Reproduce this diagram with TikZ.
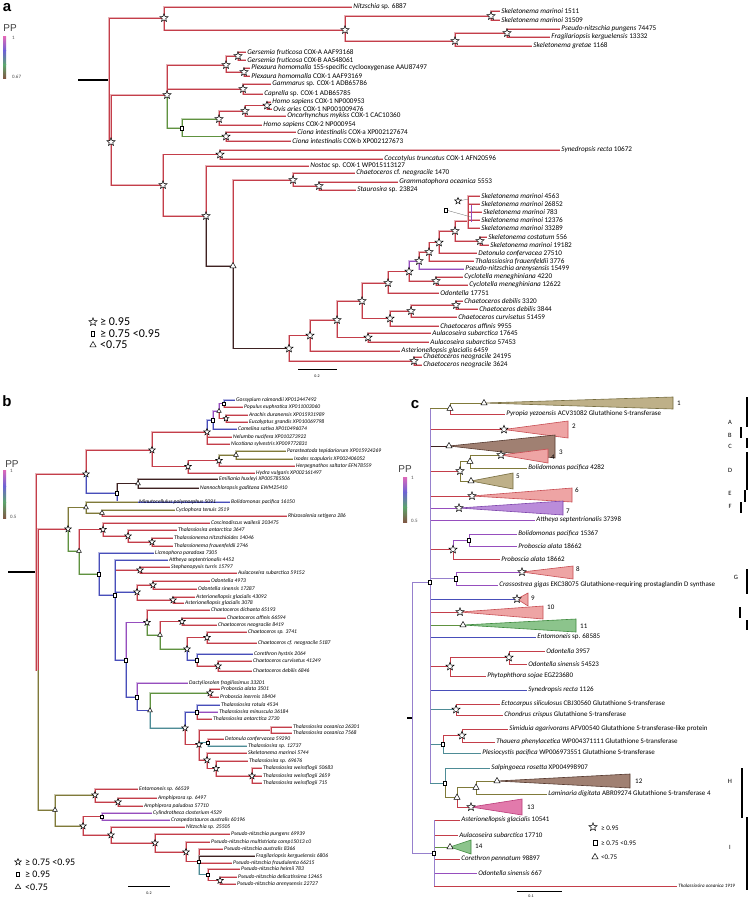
\documentclass[tikz,border=0pt]{standalone}
\usepackage{fontspec}
\setmainfont{Carlito}
\newfontfamily\panelfont{Liberation Sans}
\usetikzlibrary{shapes.geometric, backgrounds}

\definecolor{tred}{RGB}{196,62,74}
\definecolor{tgreen}{RGB}{96,146,64}
\definecolor{tolive}{RGB}{128,122,58}
\definecolor{tblue}{RGB}{72,78,186}
\definecolor{tpurple}{RGB}{150,78,190}
\definecolor{tdark}{RGB}{62,34,34}
\definecolor{tteal}{RGB}{78,140,150}
\definecolor{tlav}{RGB}{150,128,205}
\definecolor{cbtop}{RGB}{222,104,186}
\definecolor{cbmid}{RGB}{108,98,212}
\definecolor{cbgrn}{RGB}{92,164,108}
\definecolor{cbbot}{RGB}{128,88,68}
\definecolor{kolf}{RGB}{190,176,136}
\definecolor{kold}{RGB}{118,108,62}
\definecolor{kpkf}{RGB}{238,164,164}
\definecolor{kpkd}{RGB}{200,78,84}
\definecolor{kbrf}{RGB}{160,128,114}
\definecolor{kbrd}{RGB}{86,58,48}
\definecolor{kpuf}{RGB}{186,140,218}
\definecolor{kpud}{RGB}{126,70,172}
\definecolor{kgrf}{RGB}{140,196,140}
\definecolor{kgrd}{RGB}{62,138,62}
\definecolor{kmgf}{RGB}{226,122,172}
\definecolor{kmgd}{RGB}{186,58,120}

\begin{document}
\begin{tikzpicture}[
  x=1pt, y=-1pt,
  la/.style={anchor=west, inner sep=1.2pt, font=\fontsize{7.2}{8}\selectfont},
  lb/.style={anchor=west, inner sep=1pt, font=\fontsize{5.6}{6}\selectfont\itshape},
  lc/.style={anchor=west, inner sep=1.2pt, font=\fontsize{7}{8}\selectfont},
  pan/.style={font=\panelfont\bfseries\fontsize{15}{15}\selectfont, inner sep=0pt},
  pp/.style={font=\panelfont\fontsize{10}{10}\selectfont, text=black!75, inner sep=0pt},
  ppn/.style={anchor=west, font=\fontsize{5}{5}\selectfont, text=black!70, inner sep=0pt},
  num/.style={anchor=west, font=\fontsize{7}{7}\selectfont, inner sep=0pt},
  grp/.style={font=\fontsize{6.5}{6.5}\selectfont, inner sep=0pt},
  sclab/.style={font=\fontsize{4}{4}\selectfont, inner sep=0pt},
  lga/.style={anchor=west, font=\fontsize{12}{12}\selectfont, inner sep=0pt},
  lgb/.style={anchor=west, font=\fontsize{10}{10}\selectfont, inner sep=0pt},
  lgc/.style={anchor=west, font=\fontsize{7}{7}\selectfont, inner sep=0pt},
  bar/.style={line width=1.6pt},
  ms/.style={star, star points=5, star point ratio=2.3, draw=black, fill=white, line width=0.5pt, inner sep=0pt, minimum size=#1},
  ms/.default=8.5pt,
  mq/.style={rectangle, draw=black, fill=white, line width=0.5pt, inner sep=0pt, minimum width=0.75*#1, minimum height=#1},
  mq/.default=4.5pt,
  mt/.style={regular polygon, regular polygon sides=3, draw=black, fill=white, line width=0.5pt, inner sep=0pt, minimum size=#1},
  mt/.default=7pt,
  ra/.style={draw=#1!40, double=#1, double distance=0.8pt, line width=0.5pt},
  rb/.style={draw=#1!40, double=#1, double distance=0.55pt, line width=0.4pt},
  rc/.style={draw=#1, line width=0.75pt},
  clade/.style 2 args={fill=#1, draw=#2, line width=0.6pt}
]
\useasboundingbox (0,0) rectangle (750,899);

% ---------------- panel a ----------------
\node[pan] (alet) at (7,8) {a};
\node[pp] (appl) at (10,28) {PP};
\node[ppn] (apph) at (12,38) {1};
\node[ppn] (appm) at (12,77) {0.67};

\coordinate (aRs) at (78,80);
\coordinate (aR) at (109,80);
\node[ms] (aN2) at (111,142) {};
\node[ms] (aA1) at (164,18) {};
\node[ms] (aA2) at (345,30) {};
\node[ms] (aA3) at (491,16) {};
\node[ms] (aA4) at (455,41) {};
\node[ms] (aA5) at (507,33) {};
\node[ms] (aC1) at (167,95) {};
\node[ms] (aC2) at (226,65) {};
\node[ms] (aC3) at (238,56) {};
\node[ms] (aC3b) at (244,72) {};
\node[ms] (aC4) at (243,89) {};
\node[mq] (aC5) at (182,128) {};
\node[ms] (aC6) at (219,119) {};
\node[ms] (aC8) at (245,111) {};
\node[ms] (aC9) at (267,105.5) {};
\node[ms] (aC7) at (226,136.5) {};
\node[ms] (aN3) at (163,185) {};
\node[ms] (aS1) at (220,154.5) {};
\node[ms] (aN4) at (206,216) {};
\node[mt] (aN5) at (233,266) {};
\node[ms] (aN6) at (293,180) {};
\node[ms] (aN6b) at (319,186) {};
\node[ms] (aN7) at (289,348.5) {};
\node[ms] (aN8) at (310,335.5) {};
\node[ms] (aN7b) at (414,361) {};
\node[ms] (aN9) at (337,320) {};
\node[ms] (aN11) at (368,337.5) {};
\node[ms] (aN10) at (362,301) {};
\node[ms] (aN13) at (390,318.5) {};
\node[ms] (aN14) at (411,311) {};
\node[ms] (aN15) at (456,305) {};
\node[ms] (aN12) at (388,283) {};
\node[ms] (aN16) at (409,271.5) {};
\node[ms] (aN18) at (436,281) {};
\node[ms] (aN17) at (419,261) {};
\node[ms] (aN19) at (429,252) {};
\node[ms] (aN20) at (439,242.5) {};
\node[ms] (aN21) at (455,231) {};
\node[ms] (aN23) at (480,241) {};
\coordinate (aN22) at (468,221);

\node[la] (aL1) at (352,7) {\textit{Nitzschia} sp. 6887};
\node[la] (aL2) at (500,11) {\textit{Skeletonema marinoi} 1511};
\node[la] (aL3) at (500,20) {\textit{Skeletonema marinoi} 31509};
\node[la] (aL4) at (560,29) {\textit{Pseudo-nitzschia pungens} 74475};
\node[la] (aL5) at (550,37) {\textit{Fragilariopsis kerguelensis} 13332};
\node[la] (aL6) at (532,46) {\textit{Skeletonema gretae} 1168};
\node[la] (aL7) at (246,52) {\textit{Gersemia fruticosa} COX-A AAF93168};
\node[la] (aL8) at (246,60) {\textit{Gersemia fruticosa} COX-B AAS48061};
\node[la] (aL9) at (250,68) {\textit{Plexaura homomalla} 15S-specific cyclooxygenase AAU87497};
\node[la] (aL10) at (250,76) {\textit{Plexaura homomalla} COX-1 AAF93169};
\node[la] (aL11) at (271,84) {\textit{Gammarus} sp. COX-1 ADB65786};
\node[la] (aL12) at (263,94) {\textit{Caprella} sp. COX-1 ADB65785};
\node[la] (aL13) at (271,102) {\textit{Homo sapiens} COX-1 NP000953};
\node[la] (aL14) at (272,109) {\textit{Ovis aries} COX-1 NP001009476};
\node[la] (aL15) at (286,116) {\textit{Oncorhynchus mykiss} COX-1 CAC10360};
\node[la] (aL16) at (262,125) {\textit{Homo sapiens} COX-2 NP000954};
\node[la] (aL17) at (296,132) {\textit{Ciona intestinalis} COX-a XP002127674};
\node[la] (aL18) at (291,141) {\textit{Ciona intestinalis} COX-b XP002127673};
\node[la] (aL19) at (560,150) {\textit{Synedropsis recta} 10672};
\node[la] (aL20) at (383,159) {\textit{Coccotylus truncatus} COX-1 AFN20596};
\node[la] (aL21) at (309,166) {\textit{Nostoc} sp. COX-1 WP015113127};
\node[la] (aL22) at (355,173) {\textit{Chaetoceros} cf. \textit{neogracile} 1470};
\node[la] (aL23) at (398,182) {\textit{Grammatophora oceanica} 5553};
\node[la] (aL24) at (356,190) {\textit{Staurosira} sp. 23824};
\node[la] (aL25) at (480,196) {\textit{Skeletonema marinoi} 4563};
\node[la] (aL26) at (480,204) {\textit{Skeletonema marinoi} 26852};
\node[la] (aL27) at (482,212) {\textit{Skeletonema marinoi} 783};
\node[la] (aL28) at (480,220) {\textit{Skeletonema marinoi} 12376};
\node[la] (aL29) at (480,228) {\textit{Skeletonema marinoi} 33289};
\node[la] (aL30) at (487,237) {\textit{Skeletonema costatum} 556};
\node[la] (aL31) at (489,245) {\textit{Skeletonema marinoi} 19182};
\node[la] (aL32) at (477,253) {\textit{Detonula confervacea} 27510};
\node[la] (aL33) at (474,261) {\textit{Thalassiosira frauenfeldii} 3776};
\node[la] (aL34) at (464,269) {\textit{Pseudo-nitzschia arenysensis} 15499};
\node[la] (aL35) at (463,277) {\textit{Cyclotella meneghiniana} 4220};
\node[la] (aL36) at (468,285) {\textit{Cyclotella meneghiniana} 12622};
\node[la] (aL37) at (439,293) {\textit{Odontella} 17751};
\node[la] (aL38) at (463,301) {\textit{Chaetoceros debilis} 3320};
\node[la] (aL39) at (478,309) {\textit{Chaetoceros debilis} 3844};
\node[la] (aL40) at (457,317) {\textit{Chaetoceros curvisetus} 51459};
\node[la] (aL41) at (439,326) {\textit{Chaetoceros affinis} 9955};
\node[la] (aL42) at (431,333) {\textit{Aulacoseira subarctica} 17645};
\node[la] (aL43) at (429,342) {\textit{Aulacoseira subarctica} 57453};
\node[la] (aL44) at (400,351) {\textit{Asterionellopsis glacialis} 6459};
\node[la] (aL45) at (422,357) {\textit{Chaetoceros neogracile} 24195};
\node[la] (aL46) at (422,365) {\textit{Chaetoceros neogracile} 3624};

% zoomed support marks on the Skeletonema cluster
\node[ms=7pt] (aCs) at (458,201) {};
\node[mq=4pt] (aCq) at (446,210) {};
\coordinate (aCt1) at (469,199);
\coordinate (aCt2) at (471,217);
\coordinate (aCp1) at (471,205);
\coordinate (aCp2) at (471,222);

% scale and legend
\coordinate (asc1) at (298,369);
\coordinate (asc2) at (337,369);
\node[sclab] (asct) at (317,376) {0.2};
\node[ms] (alg1) at (93,322) {};
\node[mq] (alg2) at (93,333.5) {};
\node[mt] (alg3) at (93,345) {};
\node[lga] (alt1) at (100,322) {≥ 0.95};
\node[lga] (alt2) at (100,333.5) {≥ 0.75 <0.95};
\node[lga] (alt3) at (100,345) {<0.75};

% ---------------- panel b ----------------
\node[pan] (blet) at (7,401) {b};
\node[pp] (bppl) at (12,464) {PP};
\node[ppn] (bpph) at (10,471) {1};
\node[ppn] (bppm) at (10,517) {0.5};

\coordinate (bRs) at (8,572);
\coordinate (bR) at (36,572);
\coordinate (bX) at (38,670);
\node[ms=7pt] (bB1) at (86,474) {};
\node[ms=7pt] (bB2) at (152,450) {};
\node[ms=7pt] (bB5) at (207,432) {};
\node[mq=3.5pt] (bB8) at (213,420) {};
\node[mt=5pt] (bB9) at (219,411) {};
\node[mq=3.5pt] (bB10) at (224,403.5) {};
\node[ms=6pt] (bB11) at (226,418.5) {};
\node[ms=7pt] (bB6) at (188,466.5) {};
\node[ms=7pt] (bB12) at (219,460.5) {};
\node[mt=5.5pt] (bB13) at (236,455) {};
\node[mq=3.5pt] (bB3) at (117,493) {};
\node[mt=5.5pt] (bB4) at (138,483.5) {};
\node[ms=7pt] (bB20) at (68,529) {};
\node[mt=5.5pt] (bB21) at (86,507.5) {};
\node[mt=5.5pt] (bB22) at (102,513) {};
\node[mt=5.5pt] (bB23) at (79,551) {};
\node[ms=7pt] (bB24) at (103,529.5) {};
\node[ms=7pt] (bB25) at (128,536) {};
\node[ms=7pt] (bB27) at (152,542) {};
\node[mq=3.5pt] (bB26) at (99,574) {};
\node[mq=3.5pt] (bB28) at (115,595) {};
\node[ms=7pt] (bB29) at (140,570) {};
\node[ms=7pt] (bB30) at (137,592) {};
\node[ms=7pt] (bB51) at (153,585) {};
\node[ms=7pt] (bB52) at (173,600) {};
\node[mq=3.5pt] (bB31) at (126,660) {};
\node[ms=7pt] (bB32) at (147,622.5) {};
\node[mt=5.5pt] (bB34) at (160,635) {};
\node[ms=7pt] (bB35) at (182,621.5) {};
\node[ms=7pt] (bB36) at (187,649) {};
\node[ms=7pt] (bB37) at (207,637.5) {};
\node[mq=3.5pt] (bB38) at (197,660) {};
\node[ms=7pt] (bB39) at (218,666) {};
\node[mq=3.5pt] (bB33) at (137,697) {};
\node[mt=5.5pt] (bB41) at (150,710.5) {};
\node[ms=7pt] (bB42) at (210,693) {};
\node[ms=7pt] (bB43) at (185,728) {};
\node[mq=3.5pt] (bB44) at (197,712) {};
\node[ms=7pt] (bB45) at (199,744.5) {};
\coordinate (bB46) at (271,730);
\node[mq=3.5pt] (bB48) at (208,742.5) {};
\node[ms=7pt] (bB47) at (207,760) {};
\node[ms=7pt] (bB49) at (216,768.5) {};
\node[ms=7pt] (bB50) at (252,776) {};
\node[mt=5.5pt] (bB40) at (55,810) {};
\node[ms=7pt] (bB53) at (95,795) {};
\node[ms=7pt] (bB55) at (118,802) {};
\node[ms=7pt] (bB54) at (83,826) {};
\node[mq=3.5pt] (bB56) at (102,816.5) {};
\node[ms=7pt] (bB57) at (111,835) {};
\node[ms=7pt] (bB58) at (155,843) {};
\node[ms=7pt] (bB59) at (186,852) {};
\node[mq=3.5pt] (bB60) at (199,861.5) {};
\node[mq=3.5pt] (bB61) at (208,874.5) {};
\node[ms=7pt] (bB62) at (220,880.5) {};

\node[lb] (bL1) at (235,400) {Gossypium raimondii XP012447492};
\node[lb] (bL2) at (243,407) {Populus euphratica XP011003060};
\node[lb] (bL3) at (248,415) {Arachis duranensis XP015931989};
\node[lb] (bL4) at (248,422) {Eucalyptus grandis XP010069798};
\node[lb] (bL5) at (237,429) {Camelina sativa XP010496074};
\node[lb] (bL6) at (232,437) {Nelumbo nucifera XP010273922};
\node[lb] (bL7) at (230,444) {Nicotiana sylvestris XP009772831};
\node[lb] (bL8) at (286,451) {Parasteatoda tepidariorum XP015924269};
\node[lb] (bL9) at (293,459) {Ixodes scapularis XP002406052};
\node[lb] (bL10) at (295,466) {Herpegnathos saltator EFN78559};
\node[lb] (bL11) at (255,473) {Hydra vulgaris XP002161497};
\node[lb] (bL12) at (218,479) {Emiliania huxleyi XP005785506};
\node[lb] (bL13) at (199,488) {Nannochloropsis gaditana EWM25410};
\node[lb] (bL14) at (230,502) {Bolidomonas pacifica 16150};
\node[lb] (bL15) at (138,502) {Minutocellulus polymorphus 5091};
\node[lb] (bL16) at (175,510) {Cyclophora tenuis 3519};
\node[lb] (bL17) at (287,516) {Rhizosolenia setigera 286};
\node[lb] (bL18) at (210,523) {Coscinodiscus wailesii 203475};
\node[lb] (bL19) at (177,530) {Thalassiosira antarctica 3647};
\node[lb] (bL20) at (173,538) {Thalassionema nitzschioides 14046};
\node[lb] (bL21) at (173,546) {Thalassionema frauenfeldii 2746};
\node[lb] (bL22) at (154,553) {Licmophora paradoxa 7305};
\node[lb] (bL23) at (168,560) {Attheya septentrionalis 4452};
\node[lb] (bL24) at (170,567) {Stephanopyxis turris 15797};
\node[lb] (bL25) at (237,573) {Aulacoseira subarctica 59152};
\node[lb] (bL26) at (210,581) {Odontella 4973};
\node[lb] (bL27) at (197,589) {Odontella sinensis 17287};
\node[lb] (bL28) at (195,597) {Asterionellopsis glacialis 43092};
\node[lb] (bL29) at (184,603) {Asterionellopsis glacialis 3078};
\node[lb] (bL30) at (210,610) {Chaetoceros dichaeta 65193};
\node[lb] (bL31) at (226,618) {Chaetoceros affinis 66594};
\node[lb] (bL32) at (217,625) {Chaetoceros neogracile 8419};
\node[lb] (bL33) at (247,632) {Chaetoceros sp. 3741};
\node[lb] (bL34) at (257,643) {Chaetoceros cf. neogracile 5187};
\node[lb] (bL35) at (253,654) {Corethron hystrix 2064};
\node[lb] (bL36) at (252,661) {Chaetoceros curvisetus 41249};
\node[lb] (bL37) at (252,671) {Chaetoceros debilis 6846};
\node[lb] (bL38) at (188,683) {Dactyliosolen fragilissimus 33201};
\node[lb] (bL39) at (220,689) {Proboscia alata 3501};
\node[lb] (bL40) at (219,697) {Proboscia inermis 18404};
\node[lb] (bL41) at (220,705) {Thalassiosira rotula 4534};
\node[lb] (bL42) at (218,712) {Thalassiosira minuscula 36184};
\node[lb] (bL43) at (212,719) {Thalassiosira antarctica 2730};
\node[lb] (bL44) at (292,727) {Thalassiosira oceanica 26301};
\node[lb] (bL45) at (292,733) {Thalassiosira oceanica 7568};
\node[lb] (bL46) at (224,739) {Detonula confervacea 59290};
\node[lb] (bL47) at (247,746) {Thalassiosira sp. 12737};
\node[lb] (bL48) at (247,753) {Skeletonema marinoi 5744};
\node[lb] (bL49) at (248,761) {Thalassiosira sp. 69676};
\node[lb] (bL50) at (262,768) {Thalassiosira weissflogii 50683};
\node[lb] (bL51) at (262,776) {Thalassiosira weissflogii 2659};
\node[lb] (bL52) at (262,783) {Thalassiosira weissflogii 715};
\node[lb] (bL53) at (138,789) {Entomoneis sp. 66539};
\node[lb] (bL54) at (157,798) {Amphiprora sp. 6497};
\node[lb] (bL55) at (143,806) {Amphiprora paludosa 57710};
\node[lb] (bL56) at (152,813) {Cylindrotheca closterium 4529};
\node[lb] (bL57) at (170,820) {Craspedostauros australis 60196};
\node[lb] (bL58) at (185,827) {Nitzschia sp. 25505};
\node[lb] (bL59) at (230,834) {Pseudo-nitzschia pungens 69939};
\node[lb] (bL60) at (210,842) {Pseudo-nitzschia multistriata comp15013 c0};
\node[lb] (bL61) at (223,849) {Pseudo-nitzschia australis 8366};
\node[lb] (bL62) at (255,856) {Fragilariopsis kerguelensis 6806};
\node[lb] (bL63) at (232,863) {Pseudo-nitzschia fraudulenta 66215};
\node[lb] (bL64) at (240,869) {Pseudo-nitzschia heimii 783};
\node[lb] (bL65) at (237,877) {Pseudo-nitzschia delicatissima 12465};
\node[lb] (bL66) at (236,884) {Pseudo-nitzschia arenysensis 22727};

\coordinate (bsc1) at (128,886);
\coordinate (bsc2) at (170,886);
\node[sclab] (bsct) at (149,893) {0.2};
\node[ms=7pt] (blg1) at (18,862) {};
\node[mq] (blg2) at (18,874) {};
\node[mt=6pt] (blg3) at (18,887) {};
\node[lgb] (blt1) at (25,862) {≥ 0.75 <0.95};
\node[lgb] (blt2) at (25,874) {≥ 0.95};
\node[lgb] (blt3) at (25,887) {<0.75};

% ---------------- panel c ----------------
\node[pan] (clet) at (415,405) {c};
\node[pp] (cppl) at (405,469) {PP};
\node[ppn] (cpph) at (411,478) {1};
\node[ppn] (cppm) at (411,521) {0.5};

\coordinate (cRs) at (407,718);
\coordinate (cR) at (412,718);
\node[mq] (cRc1) at (430,582) {};
\node[mq] (cRc2) at (434,853) {};
\node[mt] (cA1) at (450,408.5) {};
\node[mt] (cA2) at (484,403) {};
\node[ms] (cS2) at (504,429.5) {};
\node[mt] (cS3) at (449,446) {};
\node[ms] (cD) at (460,471) {};
\node[mt] (cD1) at (470,461.5) {};
\node[ms] (cS4) at (501,455) {};
\node[mt] (cD2) at (471,481) {};
\node[ms] (cS6) at (472,496) {};
\node[ms] (cS7) at (459,508) {};
\node[ms] (cE1) at (453,549.5) {};
\node[mq] (cE2) at (469,540) {};
\node[mq] (cG1) at (456,578.5) {};
\node[ms] (cS8) at (522,572) {};
\node[ms] (cS9) at (517,599) {};
\node[ms] (cS10) at (460,612) {};
\node[mt] (cS11) at (463,625) {};
\node[ms] (cK) at (450,666.5) {};
\node[ms] (cK2) at (509,657.5) {};
\node[ms] (cJ) at (456,709.5) {};
\node[mq] (cM1) at (443,744) {};
\node[ms] (cM2) at (462,735.5) {};
\node[mq] (cH1) at (445,783) {};
\node[mt] (cH2) at (457,797.5) {};
\node[mt] (cH3) at (476,787.5) {};
\node[mt] (cS12) at (497,781) {};
\node[ms] (cH4) at (471,807) {};
\node[mt] (cS14) at (450,847) {};

\node[lc] (cL1) at (505,414) {\textit{Pyropia yezoensis} ACV31082 Glutathione S-transferase};
\node[lc] (cL2) at (527,468) {\textit{Bolidomonas pacifica} 4282};
\node[lc] (cL3) at (535,520) {\textit{Attheya septentrionalis} 37398};
\node[lc] (cL4) at (517,534) {\textit{Bolidomonas pacifica} 15367};
\node[lc] (cL5) at (517,546) {\textit{Proboscia alata} 18662};
\node[lc] (cL6) at (500,559) {\textit{Proboscia alata} 18662};
\node[lc] (cL7) at (498,585) {\textit{Crassostrea gigas} EKC38075 Glutathione-requiring prostaglandin D synthase};
\node[lc] (cL8) at (536,637) {\textit{Entomoneis} sp. 68585};
\node[lc] (cL9) at (545,651) {\textit{Odontella} 3957};
\node[lc] (cL10) at (527,664) {\textit{Odontella sinensis} 54523};
\node[lc] (cL11) at (486,676) {\textit{Phytophthora sojae} EGZ23680};
\node[lc] (cL12) at (527,690) {\textit{Synedropsis recta} 1126};
\node[lc] (cL13) at (500,704) {\textit{Ectocarpus siliculosus} CBJ30560 Glutathione S-transferase};
\node[lc] (cL14) at (503,715) {\textit{Chondrus crispus} Glutathione S-transferase};
\node[lc] (cL15) at (508,729) {\textit{Simiduia agarivorans} AFV00540 Glutathione S-transferase-like protein};
\node[lc] (cL16) at (495,742) {\textit{Thauera phenylacetica} WP004371111 Glutathione S-transferase};
\node[lc] (cL17) at (481,753) {\textit{Plesiocystis pacifica} WP006973551 Glutathione S-transferase};
\node[lc] (cL18) at (490,768) {\textit{Salpingoeca rosetta} XP004998907};
\node[lc] (cL19) at (547,794) {\textit{Laminaria digitata} ABR09274 Glutathione S-transferase 4};
\node[lc] (cL20) at (460,820) {\textit{Asterionellopsis glacialis} 10541};
\node[lc] (cL21) at (458,835) {\textit{Aulacoseira subarctica} 17710};
\node[lc] (cL22) at (460,859) {\textit{Corethron pennatum} 98897};
\node[lc] (cL23) at (477,873) {\textit{Odontella sinensis} 667};
\node[lc, font=\fontsize{5}{5}\selectfont\itshape] (cL24) at (677,886) {Thalassiosira oceanica 1919};

\node[num] (cn1) at (677,403) {1};
\node[num] (cn2) at (572,426) {2};
\node[num] (cn3) at (559,452) {3};
\node[num] (cn4) at (551,457) {4};
\node[num] (cn5) at (516,476) {5};
\node[num] (cn6) at (575,490) {6};
\node[num] (cn7) at (566,511) {7};
\node[num] (cn8) at (576,569) {8};
\node[num] (cn9) at (531,598) {9};
\node[num] (cn10) at (547,607) {10};
\node[num] (cn11) at (580,626) {11};
\node[num] (cn12) at (635,781) {12};
\node[num] (cn13) at (527,807) {13};
\node[num] (cn14) at (475,846) {14};

\node[grp] (cgA) at (730,422) {A};
\node[grp] (cgB) at (730,435) {B};
\node[grp] (cgC) at (730,446) {C};
\node[grp] (cgD) at (730,470) {D};
\node[grp] (cgE) at (730,493) {E};
\node[grp] (cgF) at (730,506) {F};
\node[grp] (cgG) at (736,577) {G};
\node[grp] (cgH) at (730,781) {H};
\node[grp] (cgI) at (730,847) {I};

\coordinate (csc1) at (517,891);
\coordinate (csc2) at (562,891);
\node[sclab] (csct) at (531,896.5) {0.1};
\node[ms] (clg1) at (593,827) {};
\node[mq=5pt] (clg2) at (595,843) {};
\node[mt] (clg3) at (595,857) {};
\node[lgc] (clt1) at (601,828) {≥ 0.95};
\node[lgc] (clt2) at (601,843) {≥ 0.75 <0.95};
\node[lgc] (clt3) at (601,857) {<0.75};

% ---------------- branches (behind the marks) ----------------
\begin{scope}[on background layer]
\fill[white] (0,0) rectangle (750,899);

% colour bars
\shade[top color=cbtop, bottom color=cbmid] (3,37) rectangle (6,51);
\shade[top color=cbmid, bottom color=cbgrn] (3,51) rectangle (6,65);
\shade[top color=cbgrn, bottom color=cbbot] (3,65) rectangle (6,78);
\shade[top color=cbtop, bottom color=cbmid] (3,470) rectangle (6,486);
\shade[top color=cbmid, bottom color=cbgrn] (3,486) rectangle (6,502);
\shade[top color=cbgrn, bottom color=cbbot] (3,502) rectangle (6,518);
\shade[top color=cbtop, bottom color=cbmid] (403,477) rectangle (407,492);
\shade[top color=cbmid, bottom color=cbgrn] (403,492) rectangle (407,507);
\shade[top color=cbgrn, bottom color=cbbot] (403,507) rectangle (407,522);

% panel a
\draw[line width=1.4pt] (aRs) -- (aR);
\draw[ra=tred] (aR) |- (aA1.center) (aR) |- (aN2.center);
\draw[ra=tred] (aA1.center) |- (aL1.west) (aA1.center) |- (aA2.center);
\draw[ra=tred] (aA2.center) |- (aA3.center) (aA2.center) |- (aA4.center);
\draw[ra=tred] (aA3.center) |- (aL2.west) (aA3.center) |- (aL3.west);
\draw[ra=tred] (aA4.center) |- (aA5.center) (aA4.center) |- (aL6.west);
\draw[ra=tred] (aA5.center) |- (aL4.west) (aA5.center) |- (aL5.west);
\draw[ra=tred] (aN2.center) |- (aC1.center) (aN2.center) |- (aN3.center);
\draw[ra=tred] (aC1.center) |- (aC2.center) (aC1.center) |- (aC4.center);
\draw[ra=tgreen] (aC1.center) |- (aC5.center);
\draw[ra=tred] (aC2.center) |- (aC3.center) (aC2.center) |- (aC3b.center);
\draw[ra=tred] (aC3.center) |- (aL7.west) (aC3.center) |- (aL8.west);
\draw[ra=tred] (aC3b.center) |- (aL9.west) (aC3b.center) |- (aL10.west);
\draw[ra=tred] (aC4.center) |- (aL11.west) (aC4.center) |- (aL12.west);
\draw[ra=tgreen] (aC5.center) |- (aC6.center) (aC5.center) |- (aC7.center);
\draw[ra=tred] (aC6.center) |- (aC8.center) (aC6.center) |- (aL16.west);
\draw[ra=tred] (aC8.center) |- (aC9.center) (aC8.center) |- (aL15.west);
\draw[ra=tred] (aC9.center) |- (aL13.west) (aC9.center) |- (aL14.west);
\draw[ra=tred] (aC7.center) |- (aL17.west) (aC7.center) |- (aL18.west);
\draw[ra=tred] (aN3.center) |- (aS1.center) (aN3.center) |- (aN4.center);
\draw[ra=tred] (aS1.center) |- (aL19.west) (aS1.center) |- (aL20.west);
\draw[ra=tred] (aN4.center) |- (aL21.west);
\draw[ra=tdark] (aN4.center) |- (aN5.center);
\draw[ra=tred] (aN5.center) |- (aN6.center);
\draw[ra=tdark] (aN5.center) |- (aN7.center);
\draw[ra=tred] (aN6.center) |- (aL22.west) (aN6.center) |- (aN6b.center);
\draw[ra=tred] (aN6b.center) |- (aL23.west) (aN6b.center) |- (aL24.west);
\draw[ra=tred] (aN7.center) |- (aN8.center) (aN7.center) |- (aN7b.center);
\draw[ra=tred] (aN7b.center) |- (aL45.west) (aN7b.center) |- (aL46.west);
\draw[ra=tred] (aN8.center) |- (aN9.center) (aN8.center) |- (aL44.west);
\draw[ra=tred] (aN9.center) |- (aN10.center) (aN9.center) |- (aN11.center);
\draw[ra=tred] (aN11.center) |- (aL42.west) (aN11.center) |- (aL43.west);
\draw[ra=tred] (aN10.center) |- (aN12.center) (aN10.center) |- (aN13.center);
\draw[ra=tred] (aN13.center) |- (aN14.center) (aN13.center) |- (aL41.west);
\draw[ra=tred] (aN14.center) |- (aN15.center) (aN14.center) |- (aL40.west);
\draw[ra=tred] (aN15.center) |- (aL38.west) (aN15.center) |- (aL39.west);
\draw[ra=tred] (aN12.center) |- (aN16.center) (aN12.center) |- (aL37.west);
\draw[ra=tred] (aN16.center) |- (aN18.center);
\draw[ra=tpurple] (aN16.center) |- (aN17.center);
\draw[ra=tred] (aN18.center) |- (aL35.west) (aN18.center) |- (aL36.west);
\draw[ra=tred] (aN17.center) |- (aN19.center);
\draw[ra=tpurple] (aN17.center) |- (aL34.west);
\draw[ra=tred] (aN19.center) |- (aN20.center) (aN19.center) |- (aL33.west);
\draw[ra=tred] (aN20.center) |- (aN21.center) (aN20.center) |- (aL32.west);
\draw[ra=tred] (aN21.center) |- (aN22) (aN21.center) |- (aN23.center);
\draw[ra=tred] (aN23.center) |- (aL30.west) (aN23.center) |- (aL31.west);
\draw[ra=tred] (aN22) |- (aL25.west) (aN22) |- (aL26.west) (aN22) |- (aL27.west)
  (aN22) |- (aL28.west) (aN22) |- (aL29.west);
\draw[tpurple, line width=0.9pt] (aCp1) -- (aCp2);
\draw[black!60, line width=0.3pt] (aCs) -- (aCt1) (aCq) -- (aCt2);
\draw[line width=1pt] (asc1) -- (asc2);

% panel b
\draw[line width=1.4pt] (bRs) -- (bR);
\draw[rb=tred] (bR) |- (bB1.center) (bR) |- (bX);
\draw[rb=tolive] (bX) |- (bB40.center);
\draw[rb=tred] (bX) |- (bB20.center);
\draw[rb=tblue] (bB1.center) |- (bB3.center);
\draw[rb=tred] (bB1.center) |- (bB2.center);
\draw[rb=tred] (bB2.center) |- (bB5.center) (bB2.center) |- (bB6.center);
\draw[rb=tred] (bB5.center) |- (bL6.west) (bB5.center) |- (bL7.west);
\draw[rb=tblue] (bB5.center) |- (bB8.center);
\draw[rb=tblue] (bB8.center) |- (bL5.west);
\draw[rb=tpurple] (bB8.center) |- (bB9.center);
\draw[rb=tred] (bB9.center) |- (bB11.center);
\draw[rb=tpurple] (bB9.center) |- (bB10.center);
\draw[rb=tred] (bB10.center) |- (bL2.west);
\draw[rb=tblue] (bB10.center) |- (bL1.west);
\draw[rb=tred] (bB11.center) |- (bL3.west) (bB11.center) |- (bL4.west);
\draw[rb=tred] (bB6.center) |- (bB12.center) (bB6.center) |- (bL11.west);
\draw[rb=tred] (bB12.center) |- (bL10.west);
\draw[rb=tolive] (bB12.center) |- (bB13.center);
\draw[rb=tolive] (bB13.center) |- (bL8.west) (bB13.center) |- (bL9.west);
\draw[rb=tblue] (bB3.center) |- (bL14.west);
\draw[rb=tdark] (bB3.center) |- (bB4.center);
\draw[rb=tdark] (bB4.center) |- (bL12.west) (bB4.center) |- (bL13.west);
\draw[rb=tolive] (bB20.center) |- (bB21.center);
\draw[rb=tgreen] (bB20.center) |- (bB23.center);
\draw[rb=tolive] (bB21.center) |- (bL15.west) (bB21.center) |- (bB22.center);
\draw[rb=tred] (bB22.center) |- (bL17.west);
\draw[rb=tolive] (bB22.center) |- (bL16.west);
\draw[rb=tred] (bB23.center) |- (bB24.center);
\draw[rb=tgreen] (bB23.center) |- (bB26.center);
\draw[rb=tred] (bB24.center) |- (bL18.west) (bB24.center) |- (bB25.center);
\draw[rb=tred] (bB25.center) |- (bL19.west) (bB25.center) |- (bB27.center);
\draw[rb=tred] (bB27.center) |- (bL20.west) (bB27.center) |- (bL21.west);
\draw[rb=tblue] (bB26.center) |- (bL22.west) (bB26.center) |- (bB28.center);
\draw[rb=tred] (bB28.center) |- (bB29.center);
\draw[rb=tblue] (bB28.center) |- (bL23.west) (bB28.center) |- (bB30.center)
  (bB28.center) |- (bB31.center);
\draw[rb=tred] (bB29.center) |- (bL24.west) (bB29.center) |- (bL25.west);
\draw[rb=tred] (bB30.center) |- (bB51.center) (bB30.center) |- (bB52.center);
\draw[rb=tred] (bB51.center) |- (bL26.west) (bB51.center) |- (bL27.west);
\draw[rb=tred] (bB52.center) |- (bL28.west) (bB52.center) |- (bL29.west);
\draw[rb=tpurple] (bB31.center) |- (bB32.center);
\draw[rb=tblue] (bB31.center) |- (bB33.center);
\draw[rb=tred] (bB32.center) |- (bL30.west);
\draw[rb=tgreen] (bB32.center) |- (bB34.center);
\draw[rb=tred] (bB34.center) |- (bB35.center);
\draw[rb=tgreen] (bB34.center) |- (bB36.center);
\draw[rb=tred] (bB35.center) |- (bL31.west) (bB35.center) |- (bL32.west);
\draw[rb=tred] (bB36.center) |- (bB37.center);
\draw[rb=tblue] (bB36.center) |- (bB38.center);
\draw[rb=tred] (bB37.center) |- (bL33.west) (bB37.center) |- (bL34.west);
\draw[rb=tred] (bB38.center) |- (bB39.center);
\draw[rb=tblue] (bB38.center) |- (bL35.west);
\draw[rb=tred] (bB39.center) |- (bL36.west) (bB39.center) |- (bL37.west);
\draw[rb=tpurple] (bB33.center) |- (bL38.west);
\draw[rb=tblue] (bB33.center) |- (bB41.center);
\draw[rb=tgreen] (bB41.center) |- (bB42.center);
\draw[rb=tteal] (bB41.center) |- (bB43.center);
\draw[rb=tred] (bB42.center) |- (bL39.west) (bB42.center) |- (bL40.west);
\draw[rb=tred] (bB43.center) |- (bB45.center);
\draw[rb=tblue] (bB43.center) |- (bB44.center);
\draw[rb=tred] (bB44.center) |- (bL43.west);
\draw[rb=tpurple] (bB44.center) |- (bL42.west);
\draw[rb=tblue] (bB44.center) |- (bL41.west);
\draw[rb=tred] (bB45.center) |- (bB46) (bB45.center) |- (bB47.center);
\draw[rb=tteal] (bB45.center) |- (bB48.center);
\draw[rb=tred] (bB46) |- (bL44.west) (bB46) |- (bL45.west);
\draw[rb=tred] (bB48.center) |- (bL46.west);
\draw[rb=tteal] (bB48.center) |- (bL47.west);
\draw[rb=tred] (bB47.center) |- (bL48.west) (bB47.center) |- (bB49.center);
\draw[rb=tred] (bB49.center) |- (bL49.west) (bB49.center) |- (bB50.center);
\draw[rb=tred] (bB50.center) |- (bL50.west) (bB50.center) |- (bL51.west)
  (bB50.center) |- (bL52.west);
\draw[rb=tolive] (bB40.center) |- (bB53.center) (bB40.center) |- (bB54.center);
\draw[rb=tred] (bB53.center) |- (bL53.west) (bB53.center) |- (bB55.center);
\draw[rb=tred] (bB55.center) |- (bL54.west) (bB55.center) |- (bL55.west);
\draw[rb=tred] (bB54.center) |- (bB56.center) (bB54.center) |- (bB57.center);
\draw[rb=tpurple] (bB56.center) |- (bL56.west) (bB56.center) |- (bL57.west);
\draw[rb=tred] (bB57.center) |- (bL58.west) (bB57.center) |- (bB58.center);
\draw[rb=tred] (bB58.center) |- (bL59.west) (bB58.center) |- (bB59.center);
\draw[rb=tred] (bB59.center) |- (bL60.west) (bB59.center) |- (bB60.center);
\draw[rb=tred] (bB60.center) |- (bL61.west) (bB60.center) |- (bL63.west);
\draw[rb=tdark] (bB60.center) |- (bL62.west);
\draw[rb=tteal] (bB60.center) |- (bB61.center);
\draw[rb=tred] (bB61.center) |- (bL64.west) (bB61.center) |- (bB62.center);
\draw[rb=tred] (bB62.center) |- (bL65.west) (bB62.center) |- (bL66.west);
\draw[line width=1pt] (bsc1) -- (bsc2);

% panel c
\draw[line width=1.4pt] (cRs) -- (cR);
\draw[rc=tlav] (cR) |- (cRc1.center) (cR) |- (cRc2.center);
\draw[rc=tolive] (cRc1.center) |- (cA1.center) (cA1.center) |- (cA2.center);
\draw[rc=tred] (cA1.center) |- (cL1.west);
\draw[rc=tred] (cRc1.center) |- (cS2.center);
\draw[rc=tdark] (cRc1.center) |- (cS3.center);
\draw[rc=tred] (cRc1.center) |- (cD.center);
\draw[rc=tolive] (cD.center) |- (cD1.center) (cD.center) |- (cD2.center);
\draw[rc=tolive] (cD1.center) |- (cS4.center) (cD1.center) |- (cL2.west);
\draw[rc=tred] (cRc1.center) |- (cS6.center);
\draw[rc=tpurple] (cRc1.center) |- (cS7.center) (cRc1.center) |- (cL3.west);
\draw[rc=tred] (cRc1.center) |- (cE1.center) (cE1.center) |- (cL6.west);
\draw[rc=tpurple] (cE1.center) |- (cE2.center);
\draw[rc=tpurple] (cE2.center) |- (cL4.west) (cE2.center) |- (cL5.west);
\draw[rc=tlav] (cRc1.center) |- (cG1.center);
\draw[rc=tpurple] (cG1.center) |- (cS8.center) (cG1.center) |- (cL7.west);
\draw[rc=tblue] (cRc1.center) |- (cS9.center);
\draw[rc=tred] (cRc1.center) |- (cS10.center);
\draw[rc=tgreen] (cRc1.center) |- (cS11.center);
\draw[rc=tblue] (cRc1.center) |- (cL8.west);
\draw[rc=tred] (cRc1.center) |- (cK.center);
\draw[rc=tred] (cK.center) |- (cK2.center) (cK.center) |- (cL11.west);
\draw[rc=tred] (cK2.center) |- (cL9.west) (cK2.center) |- (cL10.west);
\draw[rc=tblue] (cRc1.center) |- (cL12.west);
\draw[rc=tteal] (cRc1.center) |- (cJ.center);
\draw[rc=tred] (cJ.center) |- (cL13.west) (cJ.center) |- (cL14.west);
\draw[rc=tteal] (cRc1.center) |- (cM1.center) (cM1.center) |- (cL17.west);
\draw[rc=tred] (cM1.center) |- (cM2.center);
\draw[rc=tred] (cM2.center) |- (cL15.west) (cM2.center) |- (cL16.west);
\draw[rc=tteal] (cRc1.center) |- (cH1.center) (cH1.center) |- (cL18.west);
\draw[rc=tolive] (cH1.center) |- (cH2.center) (cH2.center) |- (cH3.center);
\draw[rc=tred] (cH2.center) |- (cH4.center);
\draw[rc=tolive] (cH3.center) |- (cS12.center) (cH3.center) |- (cL19.west);
\draw[rc=tlav] (cRc1.center |- cA1.center) -- (cRc1.center |- cH1.center);
\draw[rc=tred] (cRc2.center) |- (cL20.west) (cRc2.center) |- (cL21.west)
  (cRc2.center) |- (cL22.west) (cRc2.center) |- (cL24.west);
\draw[rc=tpurple] (cRc2.center) |- (cL23.west);
\draw[rc=tgreen] (cRc2.center) |- (cS14.center);
\draw[rc=tlav] (cRc2.center |- cL20.west) -- (cRc2.center |- cL24.west);

% collapsed clades
\filldraw[clade={kolf}{kold}] (cA2.center) -- (673,397) -- (673,409) -- cycle;
\filldraw[clade={kpkf}{kpkd}] (cS2.center) -- (568,421) -- (568,438) -- cycle;
\filldraw[clade={kbrf}{kbrd}] (cS3.center) -- (555,435) -- (555,458) -- cycle;
\filldraw[clade={kpkf}{kpkd}] (cS4.center) -- (548,449) -- (548,463) -- cycle;
\filldraw[clade={kolf}{kold}] (cD2.center) -- (513,473) -- (513,489) -- cycle;
\filldraw[clade={kpkf}{kpkd}] (cS6.center) -- (572,488) -- (572,502) -- cycle;
\filldraw[clade={kpuf}{kpud}] (cS7.center) -- (563,501) -- (563,515) -- cycle;
\filldraw[clade={kpkf}{kpkd}] (cS8.center) -- (573,566) -- (573,579) -- cycle;
\filldraw[clade={kpkf}{kpkd}] (cS9.center) -- (528,593) -- (528,606) -- cycle;
\filldraw[clade={kpkf}{kpkd}] (cS10.center) -- (543,606) -- (543,619) -- cycle;
\filldraw[clade={kgrf}{kgrd}] (cS11.center) -- (576,619) -- (576,632) -- cycle;
\filldraw[clade={kbrf}{kbrd}] (cS12.center) -- (630,774) -- (630,788) -- cycle;
\filldraw[clade={kmgf}{kmgd}] (cH4.center) -- (522,799) -- (522,815) -- cycle;
\filldraw[clade={kgrf}{kgrd}] (cS14.center) -- (471,840) -- (471,854) -- cycle;

% group bars
\draw[bar] (747,397) -- (747,427);
\draw[bar] (741,427) -- (741,438);
\draw[bar] (747,438) -- (747,448);
\draw[bar] (747,452) -- (747,490);
\draw[bar] (745,490) -- (745,502);
\draw[bar] (741,502) -- (741,513);
\draw[bar] (747,569) -- (747,594);
\draw[bar] (740,607) -- (740,618);
\draw[bar] (747,620) -- (747,630);
\draw[bar] (742,768) -- (742,818);
\draw[bar] (747,817) -- (747,890);
\draw[line width=1pt] (csc1) -- (csc2);
\end{scope}
\end{tikzpicture}
\end{document}
